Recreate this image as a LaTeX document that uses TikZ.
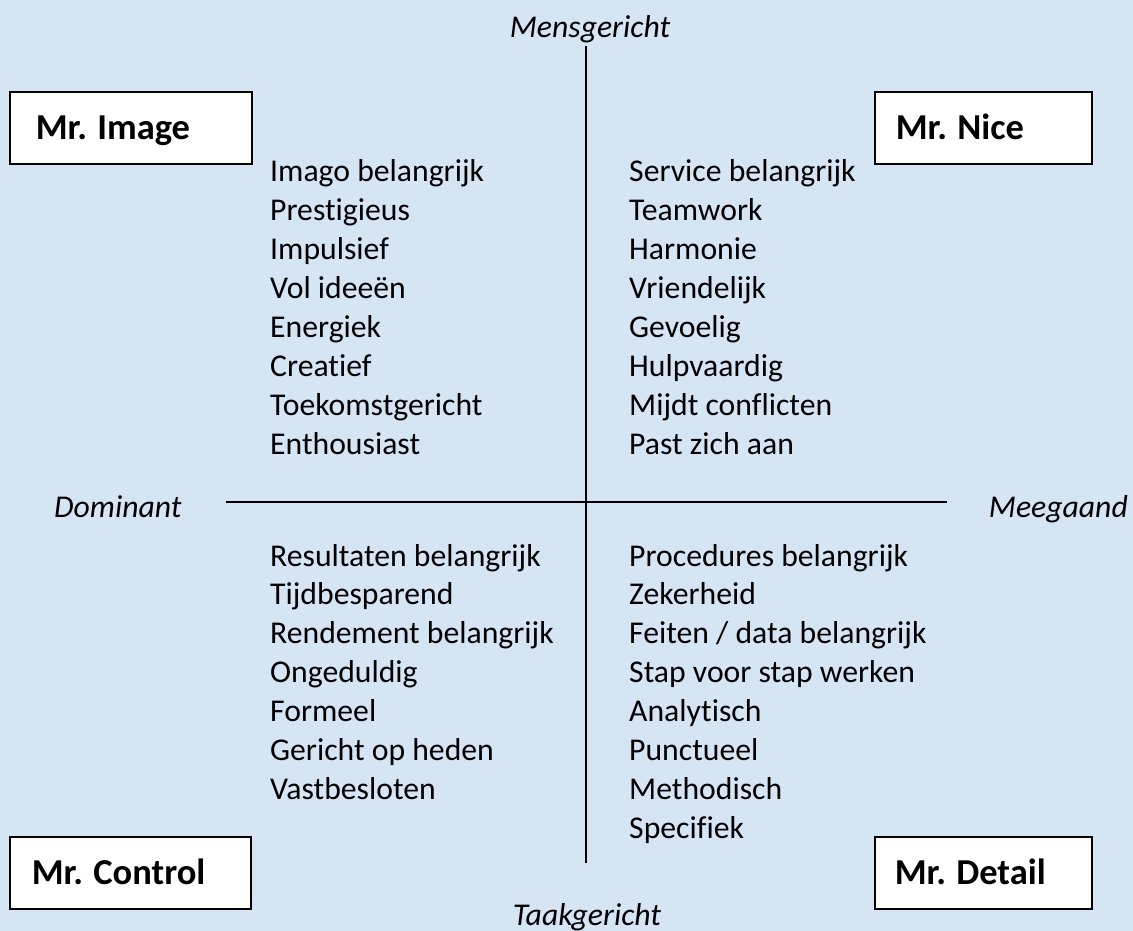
\documentclass[tikz,border=0pt]{standalone}
\usepackage{fontspec}
\setmainfont[Ligatures=CommonOff]{Carlito}
\frenchspacing
\definecolor{bg}{RGB}{214,229,244}
\begin{document}
\begin{tikzpicture}[x=1pt,y=-1pt,
  item/.style={anchor=base west, inner sep=0pt, font=\fontsize{31.7}{38}\selectfont},
  axislabel/.style={inner sep=0pt, font=\fontsize{31.7}{38}\selectfont\itshape},
  typebox/.style={draw=black, line width=1.6pt, fill=white, anchor=north west,
    minimum height=72pt, inner xsep=0pt, inner ysep=0pt,
    text height=24pt, text depth=0pt, align=left,
    font=\fontsize{36.5}{44}\selectfont\bfseries},
  axis/.style={line width=1.6pt}]
\fill[bg] (0,0) rectangle (1133,931);
\useasboundingbox (0,0) rectangle (1133,931);
% axes
\coordinate (top) at (586,46);
\coordinate (bottom) at (586,863);
\coordinate (left) at (226,502);
\coordinate (right) at (947,502);
\draw[axis] (top) -- (bottom);
\draw[axis] (left) -- (right);
% axis labels
\node[axislabel, anchor=base] (mens) at (590,37.7) {Mensgericht};
\node[axislabel, anchor=base] (taak) at (587,925) {Taakgericht};
\node[axislabel, anchor=base west] (dom) at (54,517) {Dominant};
\node[axislabel, anchor=base east] (mee) at (1128,517) {Meegaand};
% boxes
\node[typebox, text width=242pt, minimum width=242pt] (image) at (9,91) {\hspace*{26pt}Mr.\kern-2pt\ Image};
\node[typebox, text width=217pt, minimum width=217pt] (nice) at (874,91) {\hspace*{21pt}Mr.\kern-2pt\ Nice};
\node[typebox, text width=241pt, minimum width=241pt] (control) at (9,836) {\hspace*{22pt}Mr.\kern-2pt\ Control};
\node[typebox, text width=217pt, minimum width=217pt] (detail) at (874,836) {\hspace*{20pt}Mr.\kern-2pt\ Detail};
% quadrant texts
\foreach \t [count=\i from 0] in {Imago belangrijk, Prestigieus, Impulsief, Vol ideeën, Energiek, Creatief, Toekomstgericht, Enthousiast}
  \node[item] (tl\i) at (270,{182+\i*38.9}) {\t};
\foreach \t [count=\i from 0] in {Service belangrijk, Teamwork, Harmonie, Vriendelijk, Gevoelig, Hulpvaardig, Mijdt conflicten, Past zich aan}
  \node[item] (tr\i) at (629,{182+\i*38.9}) {\t};
\foreach \t [count=\i from 0] in {Resultaten belangrijk, Tijdbesparend, Rendement belangrijk, Ongeduldig, Formeel, Gericht op heden, Vastbesloten}
  \node[item] (bl\i) at (270,{566+\i*38.9}) {\t};
\foreach \t [count=\i from 0] in {Procedures belangrijk, Zekerheid, Feiten / data belangrijk, Stap voor stap werken, Analytisch, Punctueel, Methodisch, Specifiek}
  \node[item] (br\i) at (629,{566+\i*38.9}) {\t};
\end{tikzpicture}
\end{document}
